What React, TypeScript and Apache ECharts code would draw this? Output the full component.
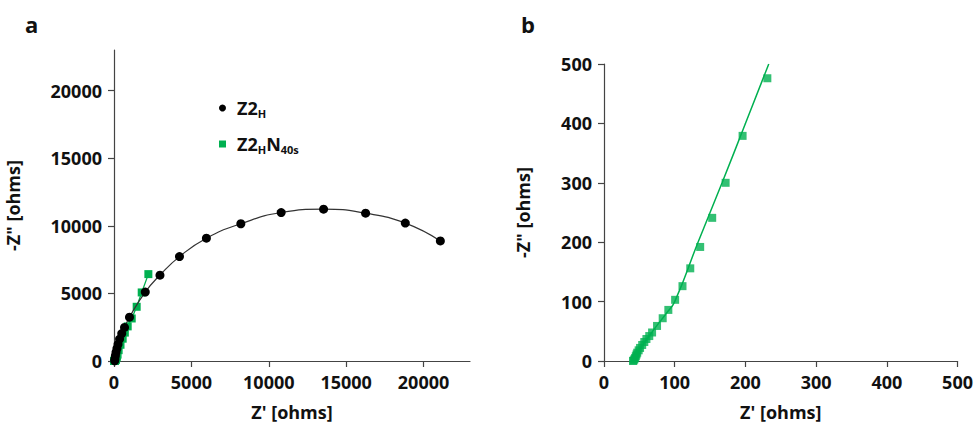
import React, { useEffect, useRef } from "react";
import * as echarts from "echarts";

const FONT = "'Open Sans', 'Liberation Sans', sans-serif";
const GREEN = "#00B050";

// Panel a: Z2_H (black circles)
const z2hPoints: number[][] = [
  [45, 20], [60, 150], [90, 380], [130, 640], [190, 930], [260, 1230],
  [360, 1620], [500, 2030], [680, 2480], [1000, 3240], [2020, 5100],
  [2970, 6350], [4230, 7720], [5970, 9085], [8195, 10150], [10800, 10980],
  [13540, 11230], [16255, 10930], [18820, 10200], [21085, 8880],
];

// Panel b: Z2_HN_40s high-frequency points (green squares)
const z2hnPointsB: number[][] = [
  [41, 0], [42, 1], [43, 3], [44, 5], [45, 8], [46, 11], [47, 14], [49, 18],
  [51, 22], [54, 27], [57, 32], [60, 37], [64, 42], [68, 48], [75, 59],
  [83, 72], [91, 86], [100.6, 103], [111, 126], [122, 156], [136, 192],
  [153, 241], [172, 300], [196, 379], [231, 476],
];

// Panel a: additional lower-frequency points of Z2_HN_40s
const z2hnPointsAExtra: number[][] = [
  [300, 800], [420, 1200], [560, 1650], [700, 2100], [885, 2560],
  [1145, 3145], [1465, 4010], [1790, 5070], [2220, 6425],
];

// Panel b: fitted line
const fitLineB: number[][] = [
  [41, 0], [45, 9], [50, 19], [57, 31], [65, 44], [75, 60], [88, 80],
  [100, 100], [133, 200], [167, 300], [200, 400], [233, 500],
];

const ticksA = [0, 5000, 10000, 15000, 20000];
const ticksB = [0, 100, 200, 300, 400, 500];

export default function App() {
  const ref = useRef<HTMLDivElement>(null);

  useEffect(() => {
    if (!ref.current) return;
    const chart = echarts.init(ref.current, null, { renderer: "svg" });

    const axisCommon = {
      axisLine: { show: true, lineStyle: { color: "#444", width: 1.2 } },
      axisTick: { show: true, length: 6, lineStyle: { color: "#444", width: 1.2 } },
      splitLine: { show: false },
      axisLabel: {
        fontFamily: FONT,
        fontWeight: 700,
        fontSize: 18,
        color: "#111",
        margin: 12,
        formatter: (v: number) => String(v),
      },
      nameTextStyle: {
        fontFamily: FONT,
        fontWeight: 700,
        fontSize: 18,
        color: "#111",
      },
      nameLocation: "middle" as const,
    };

    const richStyle = {
      m: { fontFamily: FONT, fontWeight: 700, fontSize: 18, color: "#111" },
      s: {
        fontFamily: FONT,
        fontWeight: 700,
        fontSize: 11,
        color: "#111",
        padding: [11, 0, 0, 0],
      },
    };

    const dataA2 = [...z2hnPointsB, ...z2hnPointsAExtra];

    chart.setOption({
      animation: false,
      backgroundColor: "#fff",
      title: [
        {
          text: "a",
          left: 20,
          top: 8,
          textStyle: { fontFamily: FONT, fontWeight: 700, fontSize: 22, color: "#111" },
        },
        {
          text: "b",
          left: 516,
          top: 8,
          textStyle: { fontFamily: FONT, fontWeight: 700, fontSize: 22, color: "#111" },
        },
      ],
      legend: {
        left: 214,
        top: 94,
        orient: "vertical",
        itemGap: 16,
        itemWidth: 7,
        itemHeight: 7,
        data: [
          { name: "Z2H", icon: "circle", itemStyle: { color: "#000" } },
          { name: "Z2HN40s", icon: "rect", itemStyle: { color: GREEN } },
        ],
        formatter: (name: string) =>
          name === "Z2H" ? "{m|Z2}{s|H}" : "{m|Z2}{s|H}{m|N}{s|40s}",
        textStyle: {
          rich: richStyle,
          fontFamily: FONT,
          fontSize: 18,
          fontWeight: 700,
          padding: [0, 0, 0, 6],
        },
      },
      grid: [
        { left: 114, top: 50, width: 356, height: 311 },
        { left: 604, top: 64, width: 356, height: 297 },
      ],
      xAxis: [
        {
          ...axisCommon,
          gridIndex: 0,
          type: "value",
          min: 0,
          max: 23000,
          interval: 5000,
          name: "Z' [ohms]",
          nameGap: 42,
          axisTick: { ...axisCommon.axisTick, customValues: ticksA },
          axisLabel: { ...axisCommon.axisLabel, customValues: ticksA },
        },
        {
          ...axisCommon,
          gridIndex: 1,
          type: "value",
          min: 0,
          max: 500,
          interval: 100,
          name: "Z' [ohms]",
          nameGap: 42,
          axisTick: { ...axisCommon.axisTick, customValues: ticksB },
          axisLabel: { ...axisCommon.axisLabel, customValues: ticksB },
        },
      ],
      yAxis: [
        {
          ...axisCommon,
          gridIndex: 0,
          type: "value",
          min: 0,
          max: 23000,
          interval: 5000,
          name: '-Z" [ohms]',
          nameGap: 92,
          axisTick: { ...axisCommon.axisTick, customValues: ticksA },
          axisLabel: { ...axisCommon.axisLabel, customValues: ticksA },
        },
        {
          ...axisCommon,
          gridIndex: 1,
          type: "value",
          min: 0,
          max: 500,
          interval: 100,
          name: '-Z" [ohms]',
          nameGap: 72,
          axisTick: { ...axisCommon.axisTick, customValues: ticksB },
          axisLabel: { ...axisCommon.axisLabel, customValues: ticksB },
        },
      ],
      series: [
        {
          name: "Z2HN40s",
          type: "line",
          xAxisIndex: 0,
          yAxisIndex: 0,
          data: dataA2,
          symbol: "rect",
          symbolSize: 8,
          itemStyle: { color: GREEN },
          lineStyle: { color: GREEN, width: 1.3 },
          z: 2,
        },
        {
          name: "Z2H",
          type: "line",
          xAxisIndex: 0,
          yAxisIndex: 0,
          data: z2hPoints,
          smooth: true,
          symbol: "circle",
          symbolSize: 9,
          itemStyle: { color: "#000" },
          lineStyle: { color: "#333", width: 1.2 },
          z: 3,
        },
        {
          name: "fitB",
          type: "line",
          xAxisIndex: 1,
          yAxisIndex: 1,
          data: fitLineB,
          smooth: true,
          showSymbol: false,
          symbol: "none",
          lineStyle: { color: GREEN, width: 1.5 },
          z: 2,
        },
        {
          name: "pointsB",
          type: "scatter",
          xAxisIndex: 1,
          yAxisIndex: 1,
          data: z2hnPointsB,
          symbol: "rect",
          symbolSize: 8,
          itemStyle: { color: GREEN },
          z: 3,
        },
      ],
    });

    return () => chart.dispose();
  }, []);

  return (
    <div
      ref={ref}
      style={{ position: "absolute", left: 0, top: 0, width: 976, height: 432 }}
    />
  );
}
